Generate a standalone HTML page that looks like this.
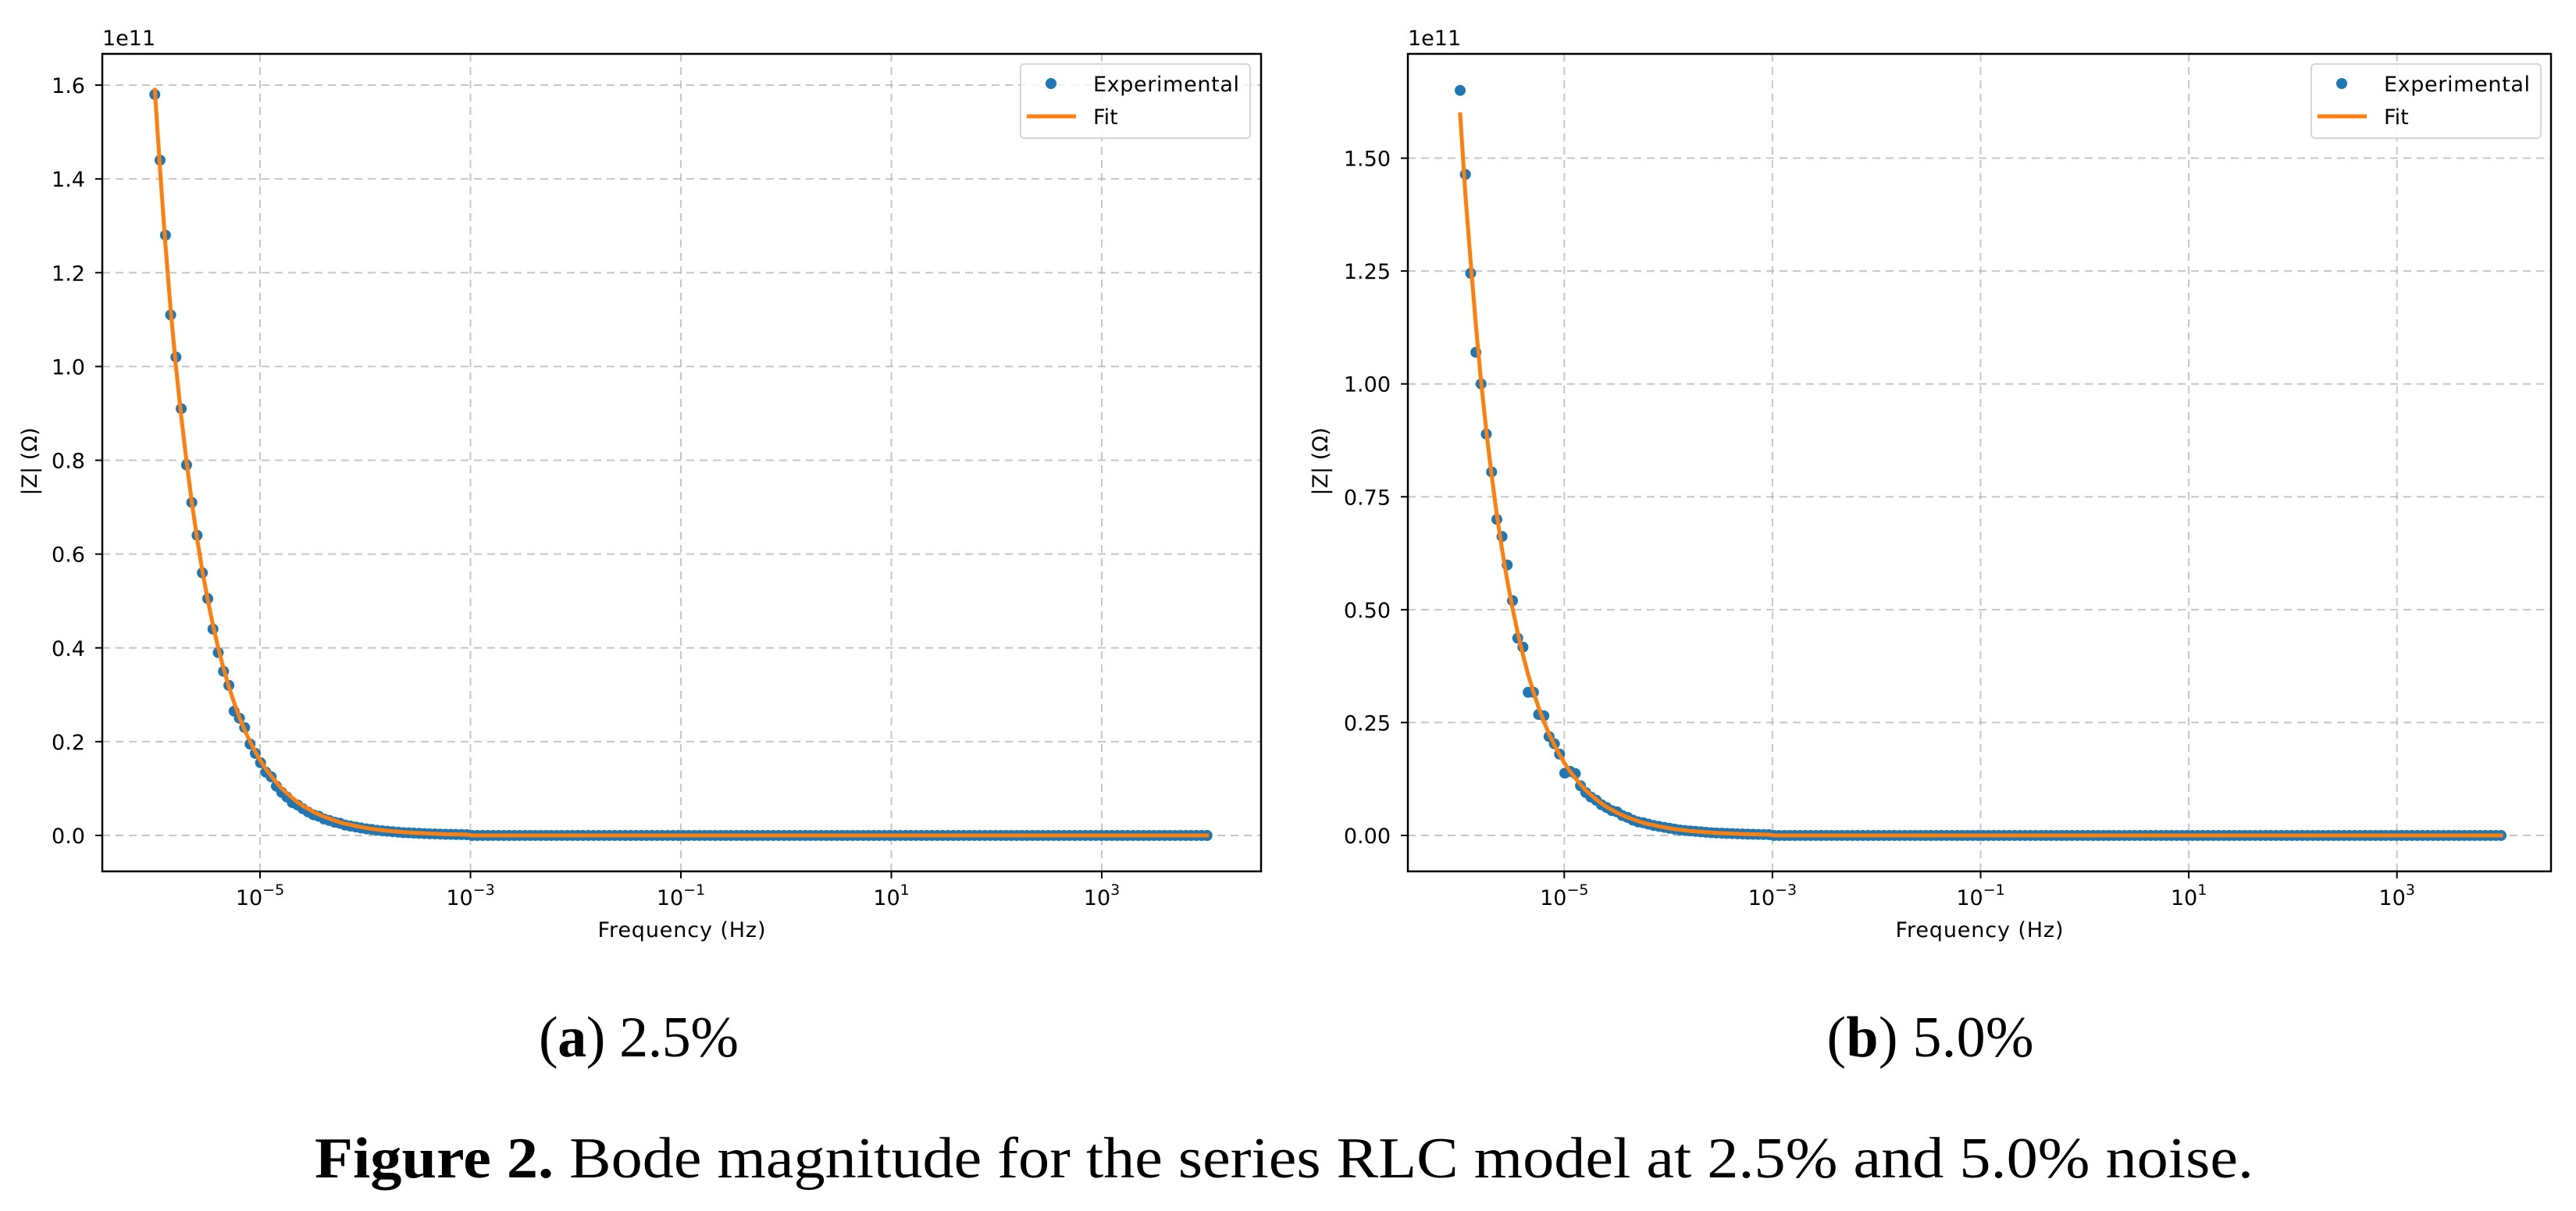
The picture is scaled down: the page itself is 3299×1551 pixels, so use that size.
<!DOCTYPE html>
<html><head><meta charset="utf-8"><style>
html,body{margin:0;padding:0;background:#fff;}
svg{display:block;}
.tk{font-family:"DejaVu Sans","Liberation Sans",sans-serif;font-size:27px;fill:#000;}
.cap{font-family:"Liberation Serif",serif;font-size:74px;fill:#000;}
</style></head><body>
<svg id="fig" width="3299" height="1551" viewBox="0 0 3299 1551" xmlns="http://www.w3.org/2000/svg">
<rect width="3299" height="1551" fill="#fff"/>
<text class="cap" x="818" y="1353" text-anchor="middle" textLength="256">(<tspan font-weight="bold">a</tspan>) 2.5%</text>
<text class="cap" x="2472" y="1353" text-anchor="middle" textLength="265">(<tspan font-weight="bold">b</tspan>) 5.0%</text>
<text class="cap" x="403" y="1508" textLength="2483" lengthAdjust="spacingAndGlyphs"><tspan font-weight="bold">Figure 2.</tspan> Bode magnitude for the series RLC model at 2.5% and 5.0% noise.</text>
</svg>
<script>
// log10 frequency (Hz)
const logFreq = [
-6.000,-5.950,-5.899,-5.849,-5.799,-5.749,-5.698,-5.648,-5.598,-5.548,-5.497,-5.447,-5.397,-5.347,-5.296,-5.246,-5.196,-5.146,-5.095,-5.045,
-4.995,-4.945,-4.894,-4.844,-4.794,-4.744,-4.693,-4.643,-4.593,-4.543,-4.492,-4.442,-4.392,-4.342,-4.291,-4.241,-4.191,-4.141,-4.090,-4.040,
-3.990,-3.940,-3.889,-3.839,-3.789,-3.739,-3.688,-3.638,-3.588,-3.538,-3.487,-3.437,-3.387,-3.337,-3.286,-3.236,-3.186,-3.136,-3.085,-3.035,
-2.985,-2.935,-2.884,-2.834,-2.784,-2.734,-2.683,-2.633,-2.583,-2.533,-2.482,-2.432,-2.382,-2.332,-2.281,-2.231,-2.181,-2.131,-2.080,-2.030,
-1.980,-1.930,-1.879,-1.829,-1.779,-1.729,-1.678,-1.628,-1.578,-1.528,-1.477,-1.427,-1.377,-1.327,-1.276,-1.226,-1.176,-1.126,-1.075,-1.025,
-0.975,-0.925,-0.874,-0.824,-0.774,-0.724,-0.673,-0.623,-0.573,-0.523,-0.472,-0.422,-0.372,-0.322,-0.271,-0.221,-0.171,-0.121,-0.070,-0.020,
0.030,0.080,0.131,0.181,0.231,0.281,0.332,0.382,0.432,0.482,0.533,0.583,0.633,0.683,0.734,0.784,0.834,0.884,0.935,0.985,
1.035,1.085,1.136,1.186,1.236,1.286,1.337,1.387,1.437,1.487,1.538,1.588,1.638,1.688,1.739,1.789,1.839,1.889,1.940,1.990,
2.040,2.090,2.141,2.191,2.241,2.291,2.342,2.392,2.442,2.492,2.543,2.593,2.643,2.693,2.744,2.794,2.844,2.894,2.945,2.995,
3.045,3.095,3.146,3.196,3.246,3.296,3.347,3.397,3.447,3.497,3.548,3.598,3.648,3.698,3.749,3.799,3.849,3.899,3.950,4.000];
// |Z| in units of 1e11 ohm
const expA = [
1.58,1.44,1.28,1.11,1.02,0.91,0.79,0.71,0.64,0.56,0.505,0.44,0.39,0.35,0.32,0.265,0.25,0.23,0.195,0.175,
0.155,0.135,0.125,0.105,0.092,0.082,0.07,0.065,0.057,0.05,0.044,0.041,0.035,0.032,0.028,0.026,0.022,0.02,0.018,0.016,
0.014,0.013,0.011,0.010,0.009,0.008,0.007,0.006,0.0056,0.005,0.0045,0.004,0.0035,0.0032,0.0028,0.0025,0.0022,0.002,0.0018,0.0016,
0,0,0,0,0,0,0,0,0,0,0,0,0,0,0,0,0,0,0,0,
0,0,0,0,0,0,0,0,0,0,0,0,0,0,0,0,0,0,0,0,
0,0,0,0,0,0,0,0,0,0,0,0,0,0,0,0,0,0,0,0,
0,0,0,0,0,0,0,0,0,0,0,0,0,0,0,0,0,0,0,0,
0,0,0,0,0,0,0,0,0,0,0,0,0,0,0,0,0,0,0,0,
0,0,0,0,0,0,0,0,0,0,0,0,0,0,0,0,0,0,0,0,
0,0,0,0,0,0,0,0,0,0,0,0,0,0,0,0,0,0,0,0];
const fitA = [
1.59,1.42,1.26,1.12,1.00,0.894,0.797,0.71,0.633,0.564,0.503,0.448,0.4,0.356,0.317,0.283,0.252,0.225,0.2,0.179,
0.159,0.142,0.127,0.113,0.1,0.09,0.08,0.071,0.063,0.057,0.05,0.045,0.04,0.036,0.032,0.028,0.025,0.023,0.02,0.018,
0.016,0.014,0.0127,0.0113,0.01,0.009,0.008,0.0071,0.0063,0.0057,0.005,0.0045,0.004,0.0036,0.0032,0.0028,0.0025,0.0023,0.002,0.0018,
0,0,0,0,0,0,0,0,0,0,0,0,0,0,0,0,0,0,0,0,
0,0,0,0,0,0,0,0,0,0,0,0,0,0,0,0,0,0,0,0,
0,0,0,0,0,0,0,0,0,0,0,0,0,0,0,0,0,0,0,0,
0,0,0,0,0,0,0,0,0,0,0,0,0,0,0,0,0,0,0,0,
0,0,0,0,0,0,0,0,0,0,0,0,0,0,0,0,0,0,0,0,
0,0,0,0,0,0,0,0,0,0,0,0,0,0,0,0,0,0,0,0,
0,0,0,0,0,0,0,0,0,0,0,0,0,0,0,0,0,0,0,0];
const expB = [
1.65,1.464,1.245,1.07,1.0,0.889,0.805,0.70,0.662,0.599,0.52,0.437,0.417,0.317,0.317,0.268,0.265,0.219,0.203,0.18,
0.138,0.142,0.137,0.11,0.095,0.085,0.078,0.068,0.062,0.055,0.052,0.044,0.04,0.034,0.03,0.028,0.025,0.022,0.02,0.018,
0.016,0.014,0.012,0.011,0.01,0.009,0.008,0.007,0.006,0.0055,0.005,0.0045,0.004,0.0035,0.0032,0.0028,0.0025,0.0022,0.002,0.0018,
0,0,0,0,0,0,0,0,0,0,0,0,0,0,0,0,0,0,0,0,
0,0,0,0,0,0,0,0,0,0,0,0,0,0,0,0,0,0,0,0,
0,0,0,0,0,0,0,0,0,0,0,0,0,0,0,0,0,0,0,0,
0,0,0,0,0,0,0,0,0,0,0,0,0,0,0,0,0,0,0,0,
0,0,0,0,0,0,0,0,0,0,0,0,0,0,0,0,0,0,0,0,
0,0,0,0,0,0,0,0,0,0,0,0,0,0,0,0,0,0,0,0,
0,0,0,0,0,0,0,0,0,0,0,0,0,0,0,0,0,0,0,0];
const fitB = [
1.597,1.42,1.27,1.13,1.005,0.896,0.798,0.711,0.634,0.565,0.503,0.449,0.4,0.356,0.318,0.283,0.252,0.225,0.2,0.179,
0.159,0.142,0.127,0.113,0.1,0.09,0.08,0.071,0.063,0.057,0.05,0.045,0.04,0.036,0.032,0.028,0.025,0.023,0.02,0.018,
0.016,0.014,0.0127,0.0113,0.01,0.009,0.008,0.0071,0.0063,0.0057,0.005,0.0045,0.004,0.0036,0.0032,0.0028,0.0025,0.0023,0.002,0.0018,
0,0,0,0,0,0,0,0,0,0,0,0,0,0,0,0,0,0,0,0,
0,0,0,0,0,0,0,0,0,0,0,0,0,0,0,0,0,0,0,0,
0,0,0,0,0,0,0,0,0,0,0,0,0,0,0,0,0,0,0,0,
0,0,0,0,0,0,0,0,0,0,0,0,0,0,0,0,0,0,0,0,
0,0,0,0,0,0,0,0,0,0,0,0,0,0,0,0,0,0,0,0,
0,0,0,0,0,0,0,0,0,0,0,0,0,0,0,0,0,0,0,0,
0,0,0,0,0,0,0,0,0,0,0,0,0,0,0,0,0,0,0,0];
const xTickExps = [-5,-3,-1,1,3];
const yTicksA = [0.0,0.2,0.4,0.6,0.8,1.0,1.2,1.4,1.6];
const yTickLabelsA = ["0.0","0.2","0.4","0.6","0.8","1.0","1.2","1.4","1.6"];
const yTicksB = [0.0,0.25,0.5,0.75,1.0,1.25,1.5];
const yTickLabelsB = ["0.00","0.25","0.50","0.75","1.00","1.25","1.50"];

const NS = "http://www.w3.org/2000/svg";
const svg = document.getElementById('fig');
function mk(tag, attrs, parent) {
  const e = document.createElementNS(NS, tag);
  for (const k in attrs) e.setAttribute(k, attrs[k]);
  (parent || svg).appendChild(e);
  return e;
}

function drawPanel(cfg) {
  const g = mk('g', {});
  
  
  const L = cfg.left, R = cfg.right, T = 69, B = 1116;
  const xs = v => cfg.xAt(v);
  const ys = v => cfg.yZero - v * cfg.yPer;
  // grid
  xTickExps.forEach(e => {
    const x = xs(e);
    const gl = mk('line', {x1:x, x2:x, y1:T, y2:B, stroke:'#b0b0b0', 'stroke-width':2, 'stroke-dasharray':'10,7', opacity:0.7}, g);
    
    
  });
  cfg.yTicks.forEach(v => {
    const y = ys(v);
    const gl = mk('line', {x1:L, x2:R, y1:y, y2:y, stroke:'#b0b0b0', 'stroke-width':2, 'stroke-dasharray':'10,7', opacity:0.7}, g);
    
    
  });
  // experimental points
  const pts = mk('g', {fill:'#1f77b4'}, g);
  
  
  cfg.exp.forEach((v, i) => {
    const c = mk('circle', {cx: xs(logFreq[i]), cy: ys(v), r: 7}, pts);
    
    
  });
  // fit line
  const d = cfg.fit.map((v, i) => (i ? 'L' : 'M') + xs(logFreq[i]).toFixed(2) + ',' + ys(v).toFixed(2)).join(' ');
  const fl = mk('path', {d: d, fill:'none', stroke:'#ff7f0e', 'stroke-width':5, 'stroke-linejoin':'round', 'stroke-linecap':'square'}, g);
  
  
  // frame
  const fr = mk('rect', {x:L, y:T, width:R-L, height:B-T, fill:'none', stroke:'#000', 'stroke-width':2.5}, g);
  
  
  // x ticks
  xTickExps.forEach(e => {
    const x = xs(e);
    mk('line', {x1:x, x2:x, y1:B, y2:B+9, stroke:'#000', 'stroke-width':2}, g);
    const t = mk('text', {x:x, y:1159, 'text-anchor':'middle', class:'tk'}, g);
    
    
    t.appendChild(document.createTextNode('10'));
    const s = mk('tspan', {dy:-13, 'font-size':19}, t);
    s.textContent = (e < 0 ? '\u2212' : '') + Math.abs(e);
  });
  // y ticks
  cfg.yTicks.forEach((v, i) => {
    const y = ys(v);
    mk('line', {x1:L-9, x2:L, y1:y, y2:y, stroke:'#000', 'stroke-width':2}, g);
    const t = mk('text', {x:L-22, y:y+10, 'text-anchor':'end', class:'tk'}, g);
    
    
    t.textContent = cfg.yLabels[i];
  });
  // offset text
  const off = mk('text', {x:L, y:58, class:'tk'}, g);
  
  
  off.textContent = '1e11';
  // axis titles
  const xt = mk('text', {x:(L+R)/2, y:1200, 'text-anchor':'middle', class:'tk', textLength:215}, g);
  
  
  xt.textContent = 'Frequency (Hz)';
  const yt = mk('text', {x:0, y:0, 'text-anchor':'middle', class:'tk', transform:'translate(' + (cfg.ylabX) + ',591) rotate(-90)'}, g);
  
  
  yt.textContent = '|Z| (\u03A9)';
  // legend
  const lg = mk('g', {}, g);
  
  
  const lx = cfg.legX;
  mk('rect', {x:lx, y:82, width:294, height:95, rx:5, fill:'#fff', 'fill-opacity':0.8, stroke:'#d6d6d6', 'stroke-width':2}, lg);
  const m = mk('circle', {cx:lx+39, cy:107, r:7, fill:'#1f77b4'}, lg);
  
  
  const t1 = mk('text', {x:lx+93, y:117, class:'tk', textLength:187}, lg);
  
  
  t1.textContent = 'Experimental';
  const ln = mk('line', {x1:lx+8, x2:lx+71, y1:149, y2:149, stroke:'#ff7f0e', 'stroke-width':5}, lg);
  
  
  const t2 = mk('text', {x:lx+93, y:159, class:'tk'}, lg);
  
  
  t2.textContent = 'Fit';
}

drawPanel({name:'panel-a', left:131, right:1615, xAt: e => 333 + (e + 5) * 134.75, yZero:1070, yPer:600.6,
  yTicks:yTicksA, yLabels:yTickLabelsA, exp:expA, fit:fitA, ylabX:47, legX:1307});
drawPanel({name:'panel-b', left:1803, right:3267, xAt: e => 2003.3 + (e + 5) * 133.3, yZero:1070, yPer:578.3,
  yTicks:yTicksB, yLabels:yTickLabelsB, exp:expB, fit:fitB, ylabX:1700, legX:2960});
</script>
</body></html>
